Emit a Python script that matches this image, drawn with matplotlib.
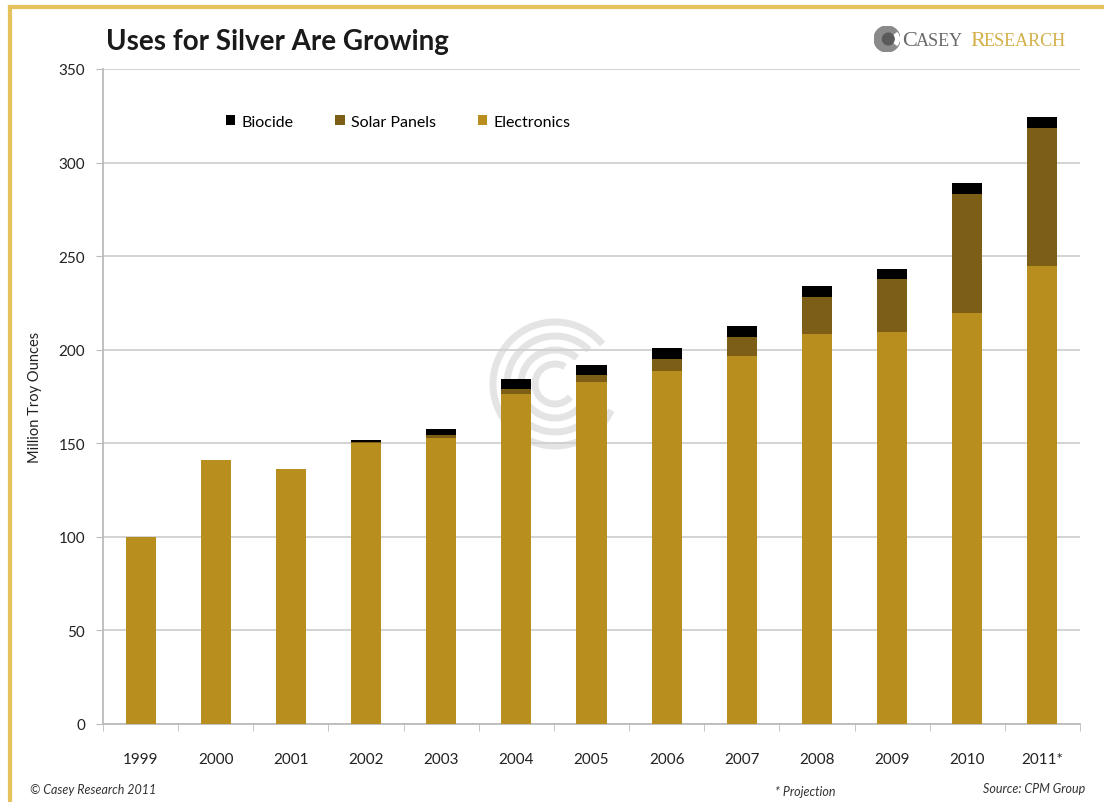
import numpy as np
import matplotlib.pyplot as plt
from matplotlib.patches import Arc, Circle, Wedge
from matplotlib.lines import Line2D

plt.rcParams['font.family'] = ['Lato', 'DejaVu Sans']

# Data (million troy ounces)
years = ["1999", "2000", "2001", "2002", "2003", "2004", "2005",
         "2006", "2007", "2008", "2009", "2010", "2011*"]
electronics = [100, 141, 136, 150, 152.7, 176.6, 182.8, 188.6, 196.4, 208.5, 209.4, 219.7, 245]
solar = [0, 0, 0, 0.5, 1.7, 2.6, 3.5, 6.6, 10.3, 19.8, 28.4, 63.6, 73.4]
biocide = [0, 0, 0, 1.0, 3.0, 5.0, 5.7, 5.7, 6.2, 5.9, 5.3, 5.8, 6.2]

c_elec = "#B88F1F"
c_solar = "#7C5E17"
c_bio = "#000000"
c_grid = "#D0D0D0"

fig = plt.figure(figsize=(11.04, 8.03), dpi=100)
W, H = 1104, 803

def fx(px):
    return px / W

def fy(py):
    return 1 - py / H

# watermark behind the plot
wm = fig.add_axes([fx(485), fy(455), fx(140), 140 / H], zorder=0)
wm.set_xlim(-70, 70)
wm.set_ylim(-70, 70)
wm.set_aspect('equal')
wm.axis('off')
for r, t1, t2 in [(62, 40, 335), (48, 45, 330), (34, 50, 325), (20, 60, 320)]:
    wm.add_patch(Arc((0, 0), 2 * r, 2 * r, theta1=t1, theta2=t2, color="#E4E4E4", lw=5))

ax = fig.add_axes([fx(103), fy(725), fx(1080 - 103), (725 - 70) / H], zorder=1)
ax.set_facecolor('none')

x = np.arange(len(years))
bottom2 = np.array(electronics) + np.array(solar)
ax.bar(x, electronics, width=0.4, color=c_elec, label="Electronics", zorder=3)
ax.bar(x, solar, width=0.4, bottom=electronics, color=c_solar, label="Solar Panels", zorder=3)
ax.bar(x, biocide, width=0.4, bottom=bottom2, color=c_bio, label="Biocide", zorder=3)

ax.set_xlim(-0.5, len(years) - 0.5)
ax.set_ylim(0, 350)
ax.set_yticks(np.arange(0, 351, 50))
ax.yaxis.grid(True, color=c_grid, lw=1.3, zorder=0)
ax.set_axisbelow(True)

ax.set_xticks(x)
ax.set_xticklabels(years, fontsize=11, color="#222222")
ax.set_xticks(np.arange(-0.5, len(years), 1), minor=True)
ax.tick_params(axis='x', which='major', length=0, pad=20)
ax.tick_params(axis='x', which='minor', length=5, color="#BBBBBB", direction='out')
ax.tick_params(axis='y', length=5, color="#BBBBBB", labelsize=11, labelcolor="#222222", pad=8)

for s in ['top', 'right']:
    ax.spines[s].set_visible(False)
for s in ['left', 'bottom']:
    ax.spines[s].set_color("#BBBBBB")
    ax.spines[s].set_linewidth(1.3)

ax.set_ylabel("Million Troy Ounces", fontsize=10.5, color="#222222", labelpad=12)

handles, labels = ax.get_legend_handles_labels()
leg = ax.legend(handles[::-1], labels[::-1], loc='center', bbox_to_anchor=(0.302, 0.919),
                ncol=3, frameon=False, fontsize=11.5, handlelength=0.6, handleheight=0.6,
                columnspacing=2.6, handletextpad=0.4)

fig.text(fx(106), fy(42), "Uses for Silver Are Growing", fontsize=20, fontweight='bold',
         color="#1A1A1A", va='center', ha='left')

# logo
lg = fig.add_axes([fx(874), fy(53), fx(26), 26 / H])
lg.set_xlim(-1, 1)
lg.set_ylim(-1, 1)
lg.set_aspect('equal')
lg.axis('off')
lg.add_patch(Circle((0, 0), 1, color="#8A8A8A"))
lg.add_patch(Wedge((0.2, 0), 0.75, -40, 40, color="white"))
lg.add_patch(Circle((0.1, 0), 0.45, color="#5A5A5A"))
fig.text(fx(902), fy(41), "C", fontsize=16, family="Liberation Serif", color="#6A6A6A", va='center')
fig.text(fx(916), fy(42), "ASEY", fontsize=13, family="Liberation Serif", color="#6A6A6A", va='center')
fig.text(fx(970), fy(41), "R", fontsize=16, family="Liberation Serif", color="#D4B04A", va='center')
fig.text(fx(984), fy(42), "ESEARCH", fontsize=13, family="Liberation Serif", color="#D4B04A", va='center')

# footer
fig.text(fx(30), fy(790), "\u00a9 Casey Research 2011", fontsize=9, style='italic',
         color="#333333", va='center')
fig.text(fx(775), fy(792), "* Projection", fontsize=9, style='italic', color="#333333", va='center')
fig.text(fx(1085), fy(789), "Source: CPM Group", fontsize=9, style='italic', color="#333333",
         va='center', ha='right')

# gold frame
fig.add_artist(Line2D([fx(10), fx(10)], [fy(8), 0], color="#E5C25C", lw=3))
fig.add_artist(Line2D([fx(10), 1], [fy(8), fy(8)], color="#E5C25C", lw=3))

fig.savefig("out.png", dpi=100)
